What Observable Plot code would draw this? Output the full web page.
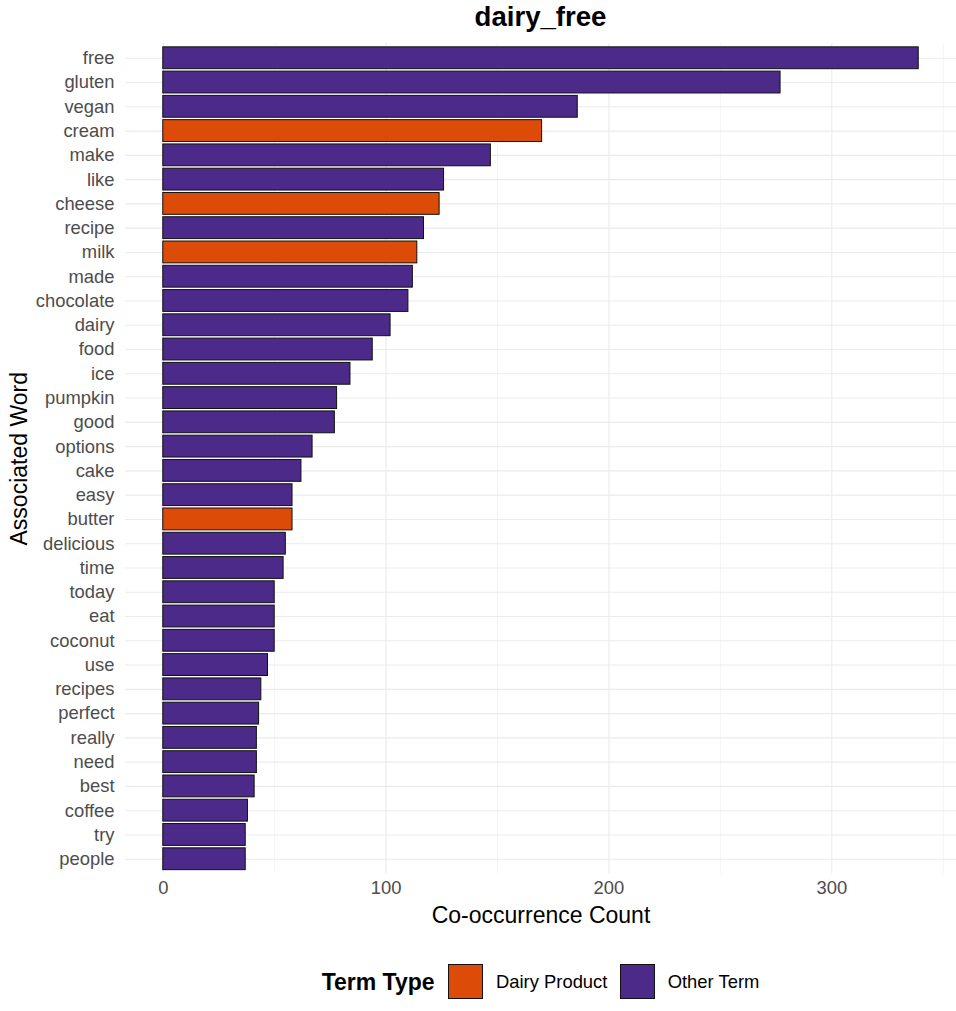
<!DOCTYPE html>
<html>
<head>
<meta charset="utf-8">
<script src="https://cdn.jsdelivr.net/npm/d3@7"></script>
<script src="https://cdn.jsdelivr.net/npm/@observablehq/plot@0.6"></script>
<style>
  body { margin: 0; background: #fff; font-family: "Liberation Sans", Arial, sans-serif; }
  #wrap { position: relative; width: 956px; height: 1011px; overflow: hidden; }
  #title { position: absolute; left: 125px; width: 831px; top: 0; height: 40px; line-height: 34px;
           text-align: center; font-weight: bold; font-size: 27.6px; color: #000; }
  #chart { position: absolute; left: 0; top: 40px; }
  .leg-title { position: absolute; font-weight: bold; font-size: 23px; line-height: 30px; color: #000; white-space: nowrap; }
  .leg-text { position: absolute; font-size: 18.4px; line-height: 30px; color: #000; white-space: nowrap; }
  .leg-key { position: absolute; width: 35px; height: 35px; box-sizing: border-box; border: 1.3px solid #111; }
</style>
</head>
<body>
<div id="wrap">
  <div id="title">dairy_free</div>
  <div id="chart"></div>
  <div id="legend"></div>
</div>
<script>
// ---- data ----
const words = ["free","gluten","vegan","cream","make","like","cheese","recipe","milk","made",
  "chocolate","dairy","food","ice","pumpkin","good","options","cake","easy","butter",
  "delicious","time","today","eat","coconut","use","recipes","perfect","really","need",
  "best","coffee","try","people"];
const counts = [339,277,186,170,147,126,124,117,114,112,
  110,102,94,84,78,77,67,62,58,58,
  55,54,50,50,50,47,44,43,42,42,
  41,38,37,37];
const dairyTerms = ["cream","cheese","milk","butter"];
const termTypes = ["Dairy Product","Other Term"];
const typeColors = ["#DC4B08","#4B2A8A"];
const xMajorTicks = [0,100,200,300];
const xMinorTicks = [50,150,250,350];

const data = words.map((w, i) => ({
  word: w,
  count: counts[i],
  type: dairyTerms.includes(w) ? termTypes[0] : termTypes[1]
}));

// ---- layout ----
const svgTop = 40, panelTop = 43.2, panelBottom = 873.3, svgH = 900;
const maxCount = d3.max(counts);
const pad = maxCount * 0.05;

const chart = Plot.plot({
  width: 956,
  height: svgH,
  marginTop: panelTop - svgTop,
  marginBottom: svgH - (panelBottom - svgTop),
  marginLeft: 125,
  marginRight: 0,
  style: { fontFamily: "Liberation Sans, Arial, sans-serif", background: "white", overflow: "visible" },
  x: { domain: [-pad, maxCount + pad] },
  y: { type: "band", domain: words, paddingInner: 0.1, paddingOuter: 0.15, round: false },
  color: { domain: termTypes, range: typeColors },
  marks: [
    Plot.ruleX(xMinorTicks, { stroke: "#EBEBEB", strokeWidth: 0.6 }),
    Plot.ruleX(xMajorTicks, { stroke: "#EBEBEB", strokeWidth: 1.1 }),
    Plot.ruleY(words, { y: d => d, stroke: "#EBEBEB", strokeWidth: 1.1 }),
    Plot.barX(data, { y: "word", x: "count", fill: "type", stroke: "#111", strokeWidth: 1 }),
    Plot.axisX({ ticks: xMajorTicks, tickSize: 0, tickPadding: 7.6, fontSize: 18.4, color: "#4D4D4D", label: null }),
    Plot.axisY({ tickSize: 0, tickPadding: 11, fontSize: 18.4, color: "#4D4D4D", label: null }),
    Plot.text(["Co-occurrence Count"], { text: d => d, frameAnchor: "bottom", lineAnchor: "middle", textAnchor: "middle", dy: 42, fontSize: 23, fill: "#000" }),
    Plot.text(["Associated Word"], { text: d => d, frameAnchor: "left", lineAnchor: "middle", textAnchor: "middle", dx: -106, rotate: -90, fontSize: 23, fill: "#000" })
  ]
});
document.getElementById("chart").appendChild(chart);

// ---- legend ----
const legend = document.getElementById("legend");
const legCenter = 982;
const lt = document.createElement("div");
lt.className = "leg-title";
lt.textContent = "Term Type";
lt.style.left = "321.7px";
lt.style.top = (legCenter - 15) + "px";
legend.appendChild(lt);
const keyLefts = [448.3, 620];
const textLefts = [496, 667.7];
termTypes.forEach((t, i) => {
  const k = document.createElement("div");
  k.className = "leg-key";
  k.style.left = keyLefts[i] + "px";
  k.style.top = (legCenter - 18.5) + "px";
  k.style.background = typeColors[i];
  legend.appendChild(k);
  const tx = document.createElement("div");
  tx.className = "leg-text";
  tx.textContent = t;
  tx.style.left = textLefts[i] + "px";
  tx.style.top = (legCenter - 15) + "px";
  legend.appendChild(tx);
});
</script>
</body>
</html>
